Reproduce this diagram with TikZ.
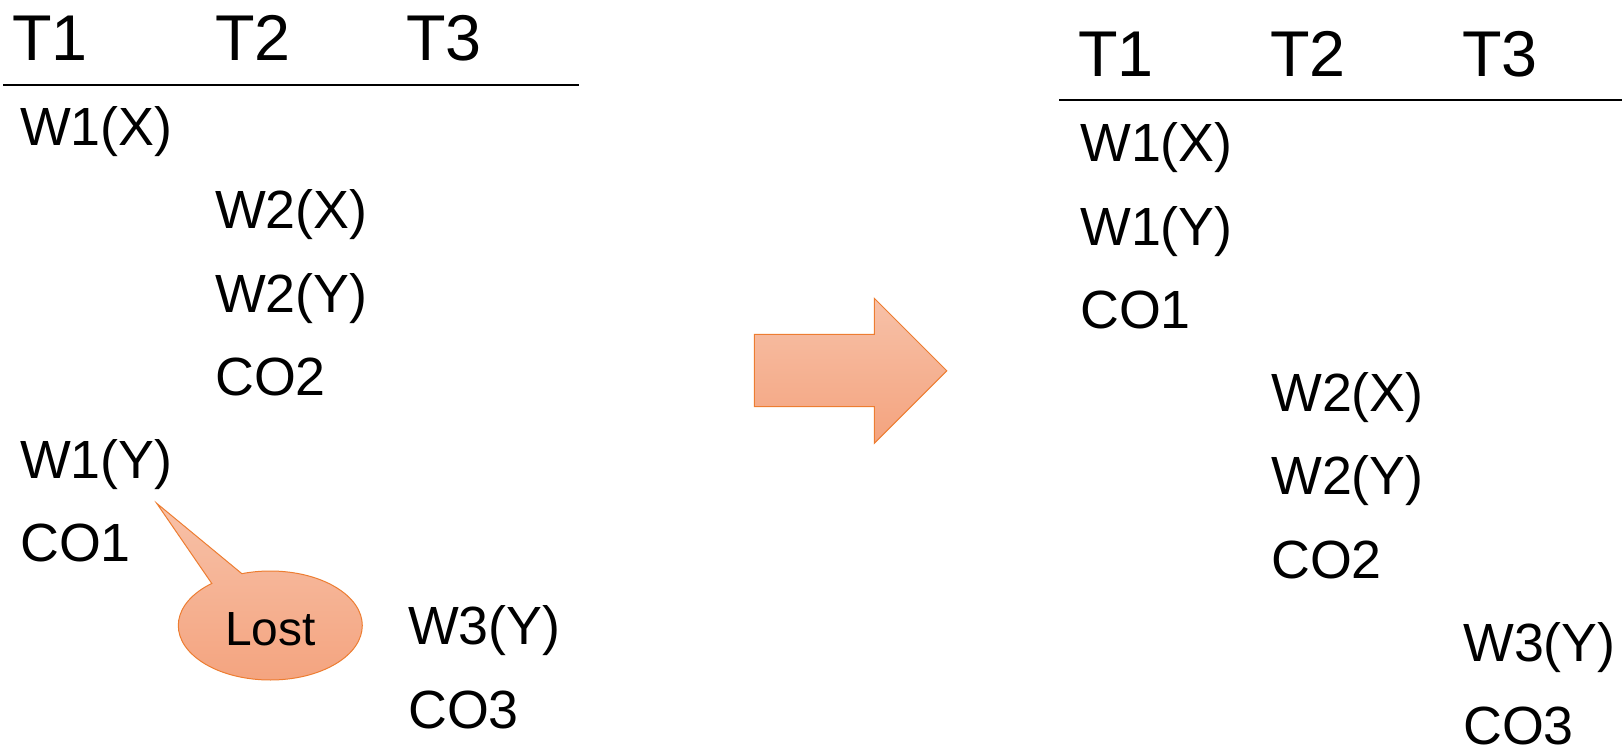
\documentclass[tikz,border=0pt]{standalone}
\usepackage{fontspec}
\setmainfont{Liberation Sans}
\usetikzlibrary{calc}
\definecolor{accent}{HTML}{ED7D31}
\definecolor{fillTop}{HTML}{F7C1A8}
\definecolor{fillBot}{HTML}{F4A37E}
\begin{document}
\begin{tikzpicture}[x=1pt,y=1pt,
  hdr/.style={anchor=base west,inner sep=0pt,font=\fontsize{64.7}{70}\selectfont},
  op/.style={anchor=base west,inner sep=0pt,font=\fontsize{53.8}{60}\selectfont},
  rulerline/.style={line width=2.5pt,black},
  orangeshape/.style={draw=accent,line width=1pt,top color=fillTop,bottom color=fillBot}]
\useasboundingbox (0,0) rectangle (1622,-746);

% ---------- left schedule ----------
\node[hdr] (lT1) at (12,-61) {T1};
\node[hdr] (lT2) at (215,-61) {T2};
\node[hdr] (lT3) at (406,-61) {T3};
\coordinate (lruleA) at (3,-85);
\coordinate (lruleB) at (579,-85);
\draw[rulerline] (lruleA) -- (lruleB);

\node[op] (lW1X) at (20,-145.7) {W1(X)};
\node[op] (lW2X) at (215,-228.9) {W2(X)};
\node[op] (lW2Y) at (215,-312.1) {W2(Y)};
\node[op] (lCO2) at (215,-395.3) {CO2};
\node[op] (lW1Y) at (20,-478.5) {W1(Y)};
\node[op] (lCO1) at (20,-561.7) {CO1};
\node[op] (lW3Y) at (408,-644.9) {W3(Y)};
\node[op] (lCO3) at (408,-728.1) {CO3};

% ---------- callout "Lost" ----------
\coordinate (tip) at (156.7,-503.3);
\coordinate (ec) at (270.3,-625.5);
\path[orangeshape] (tip) -- ($(ec)+(129.5:92 and 54.5)$)
  arc[start angle=129.5,end angle=468,x radius=92,y radius=54.5] -- cycle;
\node[anchor=base,inner sep=0pt,font=\fontsize{47.9}{52}\selectfont] (lost) at (270.3,-645) {Lost};

% ---------- big arrow ----------
\path[orangeshape] (754.3,-334.3) -- (874.3,-334.3) -- (874.3,-298.3)
  -- (946.8,-370.8) -- (874.3,-443.3) -- (874.3,-406.7) -- (754.3,-406.7) -- cycle;

% ---------- right schedule ----------
\node[hdr] (rT1) at (1078,-76.7) {T1};
\node[hdr] (rT2) at (1270,-76.7) {T2};
\node[hdr] (rT3) at (1462,-76.7) {T3};
\coordinate (rruleA) at (1059,-100);
\coordinate (rruleB) at (1622,-100);
\draw[rulerline] (rruleA) -- (rruleB);

\node[op] (rW1X) at (1080,-161.7) {W1(X)};
\node[op] (rW1Y) at (1080,-245.0) {W1(Y)};
\node[op] (rCO1) at (1080,-328.3) {CO1};
\node[op] (rW2X) at (1271,-411.6) {W2(X)};
\node[op] (rW2Y) at (1271,-494.9) {W2(Y)};
\node[op] (rCO2) at (1271,-578.2) {CO2};
\node[op] (rW3Y) at (1463,-661.5) {W3(Y)};
\node[op] (rCO3) at (1463,-744.8) {CO3};
\end{tikzpicture}
\end{document}
